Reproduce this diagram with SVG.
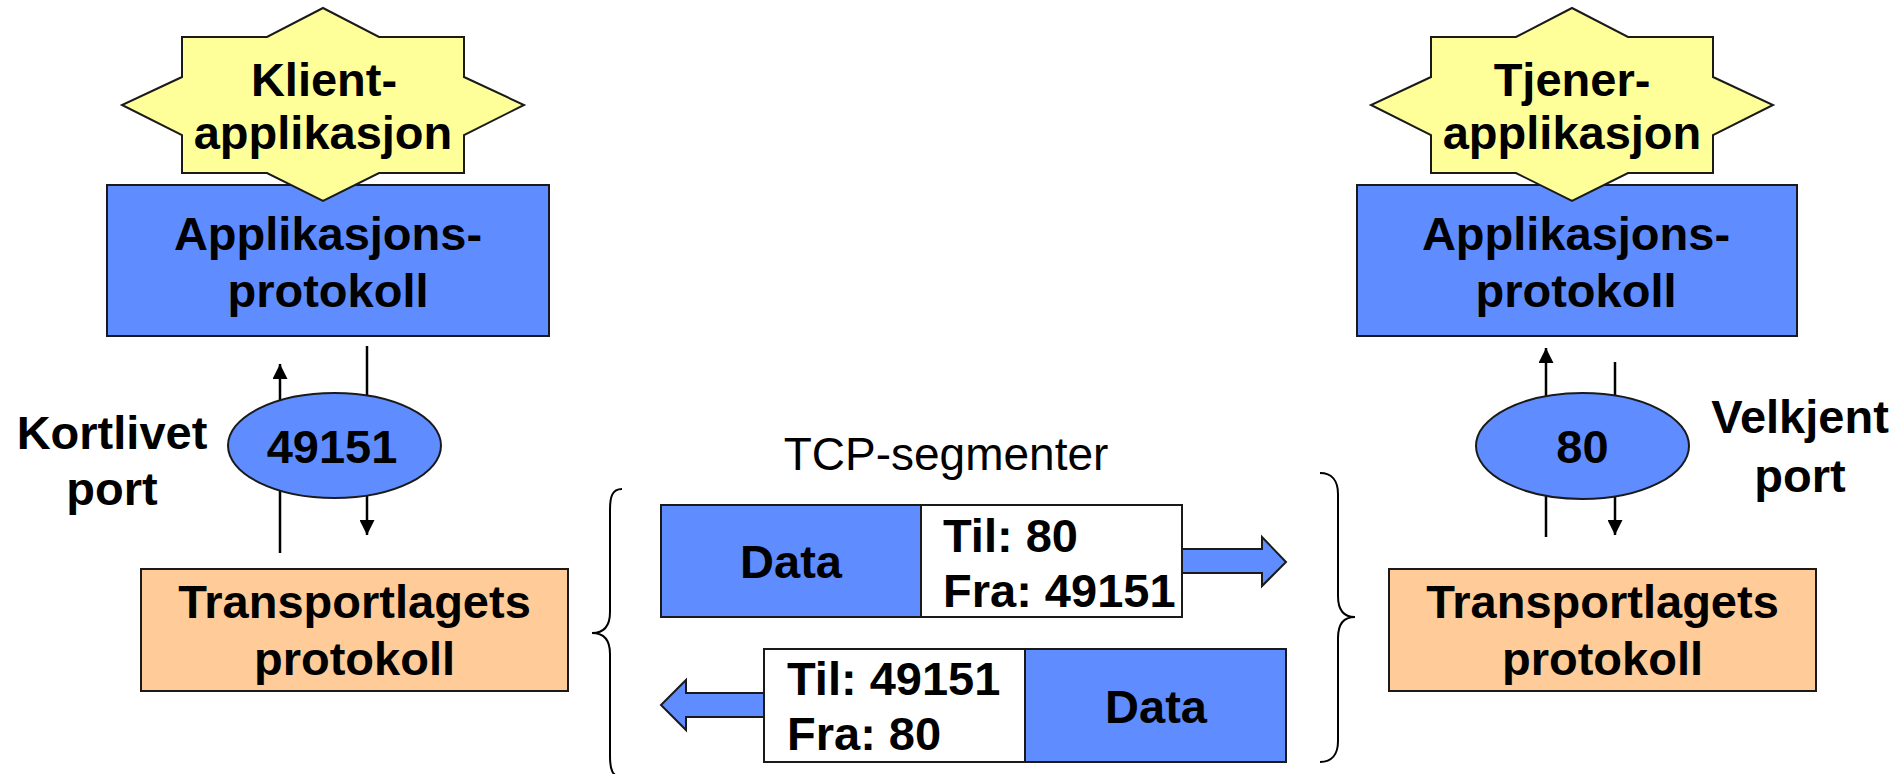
<svg xmlns="http://www.w3.org/2000/svg" width="1903" height="774" viewBox="0 0 1903 774">
<defs>
<style>
.t{font-family:"Liberation Sans",Arial,sans-serif;font-weight:bold;font-size:47px;fill:#000;text-anchor:middle}
.n{font-family:"Liberation Sans",Arial,sans-serif;font-size:46px;fill:#000;text-anchor:middle}
.blue{fill:#5F8DFF;stroke:#1a1a1a;stroke-width:2}
.star{fill:#FFFF99;stroke:#1a1a1a;stroke-width:2}
.orange{fill:#FFCC99;stroke:#1a1a1a;stroke-width:2}
.white{fill:#FFFFFF;stroke:#1a1a1a;stroke-width:2}
.ln{stroke:#000;stroke-width:2.5;fill:none}
.brace{stroke:#000;stroke-width:2;fill:none}
</style>
<marker id="ah" viewBox="0 0 10 10" refX="10" refY="5" markerWidth="6" markerHeight="6" orient="auto" markerUnits="strokeWidth">
<path d="M0,0 L10,5 L0,10 Z" fill="#000"/>
</marker>
<polygon id="starShape" points="0,-97 56,-68 141,-68 141,-28 201,0 141,30 141,68 56,68 0,96 -56,68 -141,68 -141,30 -201,0 -141,-28 -141,-68 -56,-68"/>
</defs>
<rect width="1903" height="774" fill="#FFFFFF"/>

<g id="connectors">
<line class="ln" x1="280" y1="553" x2="280" y2="364" marker-end="url(#ah)"/>
<line class="ln" x1="367" y1="346" x2="367" y2="535" marker-end="url(#ah)"/>
<line class="ln" x1="1546" y1="537" x2="1546" y2="348" marker-end="url(#ah)"/>
<line class="ln" x1="1615" y1="362" x2="1615" y2="535" marker-end="url(#ah)"/>
<polygon class="blue" points="1182,549 1262,549 1262,537 1286,562 1262,586 1262,573 1182,573"/>
<polygon class="blue" points="764,693 686,693 686,680 661,705 686,730 686,717 764,717"/>
</g>

<g id="client-app-protocol">
<rect class="blue" x="107" y="185" width="442" height="151"/>
<text class="t" x="328" y="250">Applikasjons-</text>
<text class="t" x="328" y="307">protokoll</text>
</g>
<g id="client-app">
<use href="#starShape" class="star" transform="translate(323,105)"/>
<text class="t" x="324" y="96">Klient-</text>
<text class="t" x="323" y="149">applikasjon</text>
</g>
<g id="client-port">
<ellipse class="blue" cx="334.5" cy="445.5" rx="106.5" ry="52.5"/>
<text class="t" x="332" y="463">49151</text>
</g>
<g id="client-port-label">
<text class="t" x="112" y="449">Kortlivet</text>
<text class="t" x="112" y="505">port</text>
</g>
<g id="client-transport">
<rect class="orange" x="141" y="569" width="427" height="122"/>
<text class="t" x="354.5" y="618">Transportlagets</text>
<text class="t" x="354.5" y="675">protokoll</text>
</g>

<g id="server-app-protocol">
<rect class="blue" x="1357" y="185" width="440" height="151"/>
<text class="t" x="1576" y="250">Applikasjons-</text>
<text class="t" x="1576" y="307">protokoll</text>
</g>
<g id="server-app">
<use href="#starShape" class="star" transform="translate(1572,105)"/>
<text class="t" x="1572" y="96">Tjener-</text>
<text class="t" x="1572" y="149">applikasjon</text>
</g>
<g id="server-port">
<ellipse class="blue" cx="1582.5" cy="446" rx="106.5" ry="53"/>
<text class="t" x="1582.5" y="463">80</text>
</g>
<g id="server-port-label">
<text class="t" x="1800" y="433">Velkjent</text>
<text class="t" x="1800" y="492">port</text>
</g>
<g id="server-transport">
<rect class="orange" x="1389" y="569" width="427" height="122"/>
<text class="t" x="1602.5" y="618">Transportlagets</text>
<text class="t" x="1602.5" y="675">protokoll</text>
</g>

<g id="tcp-label">
<text class="n" x="946" y="470">TCP-segmenter</text>
</g>
<g id="segment-1">
<rect class="blue" x="661" y="505" width="260" height="112"/>
<rect class="white" x="921" y="505" width="261" height="112"/>
<text class="t" x="791" y="578">Data</text>
<text class="t" x="943" y="552" style="text-anchor:start">Til: 80</text>
<text class="t" x="943" y="607" style="text-anchor:start">Fra: 49151</text>
</g>
<g id="segment-2">
<rect class="white" x="764" y="649" width="261" height="113"/>
<rect class="blue" x="1025" y="649" width="261" height="113"/>
<text class="t" x="787" y="695" style="text-anchor:start">Til: 49151</text>
<text class="t" x="787" y="750" style="text-anchor:start">Fra: 80</text>
<text class="t" x="1156" y="723">Data</text>
</g>
<g id="braces">
<path class="brace" d="M622,489 C612,489 610,497 610,510 L610,612 C610,626 604,633 592,633 C604,633 610,640 610,654 L610,756 C610,769 612,777 622,777"/>
<path class="brace" d="M1320,473 C1332,473 1338,481 1338,494 L1338,596 C1338,610 1344,617 1355,617 C1344,617 1338,624 1338,638 L1338,741 C1338,754 1332,762 1320,762"/>
</g>
</svg>
